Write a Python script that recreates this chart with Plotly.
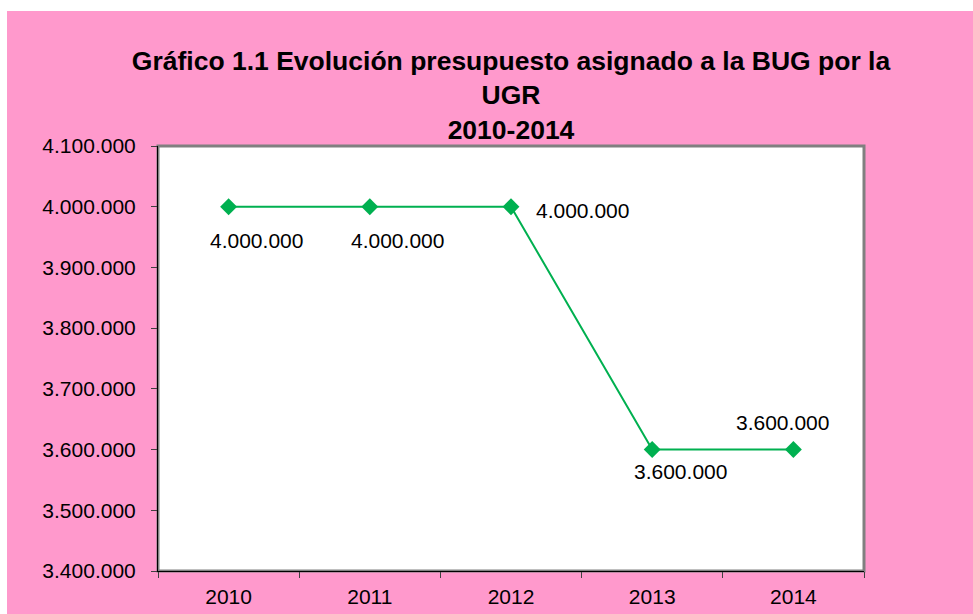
import plotly.graph_objects as go

years = ["2010", "2011", "2012", "2013", "2014"]
budget = [4000000, 4000000, 4000000, 3600000, 3600000]
y_ticks = [3400000, 3500000, 3600000, 3700000, 3800000, 3900000, 4000000, 4100000]
label_xshift = [28, 28, 71, 28, -11]
label_yshift = [-34, -34, -4, -22, 27]

def fmt(v):
    return f"{v:,}".replace(",", ".")

PINK = "#FF99CC"
GREEN = "#00B050"
FONT = "Liberation Sans, Arial, sans-serif"

W, H = 973, 614
L, R, T, B = 158, 109, 146, 43
pw, ph = W - L - R, H - T - B

def px_x(p):
    return (p - L) / pw

def px_y(p):
    return (H - B - p) / ph

fig = go.Figure()
fig.add_trace(go.Scatter(
    x=years, y=budget, mode="lines+markers",
    line=dict(color=GREEN, width=2),
    marker=dict(symbol="diamond", size=13, color=GREEN),
    cliponaxis=False, showlegend=False,
))

for i, (yv, dx, dy) in enumerate(zip(budget, label_xshift, label_yshift)):
    fig.add_annotation(x=i, y=yv, xref="x", yref="y", text=fmt(yv), showarrow=False,
                       xshift=dx, yshift=dy,
                       font=dict(family=FONT, size=21, color="black"))

fig.add_shape(type="rect", xref="paper", yref="paper", layer="below",
              x0=px_x(7), x1=px_x(W + 5), y0=px_y(H + 5), y1=px_y(11),
              fillcolor=PINK, line=dict(width=0))
fig.add_shape(type="rect", xref="paper", yref="paper", layer="below",
              x0=0, x1=1, y0=0, y1=1,
              fillcolor="white", line=dict(color="#808080", width=3))

fig.update_layout(
    template="none",
    width=W, height=H,
    margin=dict(l=L, r=R, t=T, b=B, autoexpand=False),
    paper_bgcolor="white",
    plot_bgcolor="rgba(0,0,0,0)",
    separators=",.",
    title=dict(
        text="<b>Gráfico 1.1 Evolución presupuesto asignado a la BUG por la<br>UGR<br>2010-2014</b>",
        x=0.5, xref="paper", xanchor="center",
        y=1 - 70 / H, yanchor="middle",
        font=dict(family=FONT, size=26.5, color="black"),
    ),
    font=dict(family=FONT, size=21, color="black"),
    xaxis=dict(
        type="category", range=[-0.5, 4.5], automargin=False,
        showgrid=False, showline=True, linecolor="black", linewidth=1,
        ticks="outside", tickson="boundaries", ticklen=6, tickcolor="#404040",
        ticklabelstandoff=7,
        tickfont=dict(family=FONT, size=21, color="black"),
    ),
    yaxis=dict(
        range=[3400000, 4100000], tickvals=y_ticks, automargin=False,
        ticktext=[fmt(v) for v in y_ticks],
        showgrid=False, showline=True, linecolor="black", linewidth=1,
        ticks="outside", ticklen=6, tickcolor="#404040",
        ticklabelstandoff=11,
        tickfont=dict(family=FONT, size=21, color="black"),
        zeroline=False,
    ),
)

fig.write_html("out.html", config={"displayModeBar": False},
               post_script="document.body.style.margin='0';document.body.style.padding='0';")
